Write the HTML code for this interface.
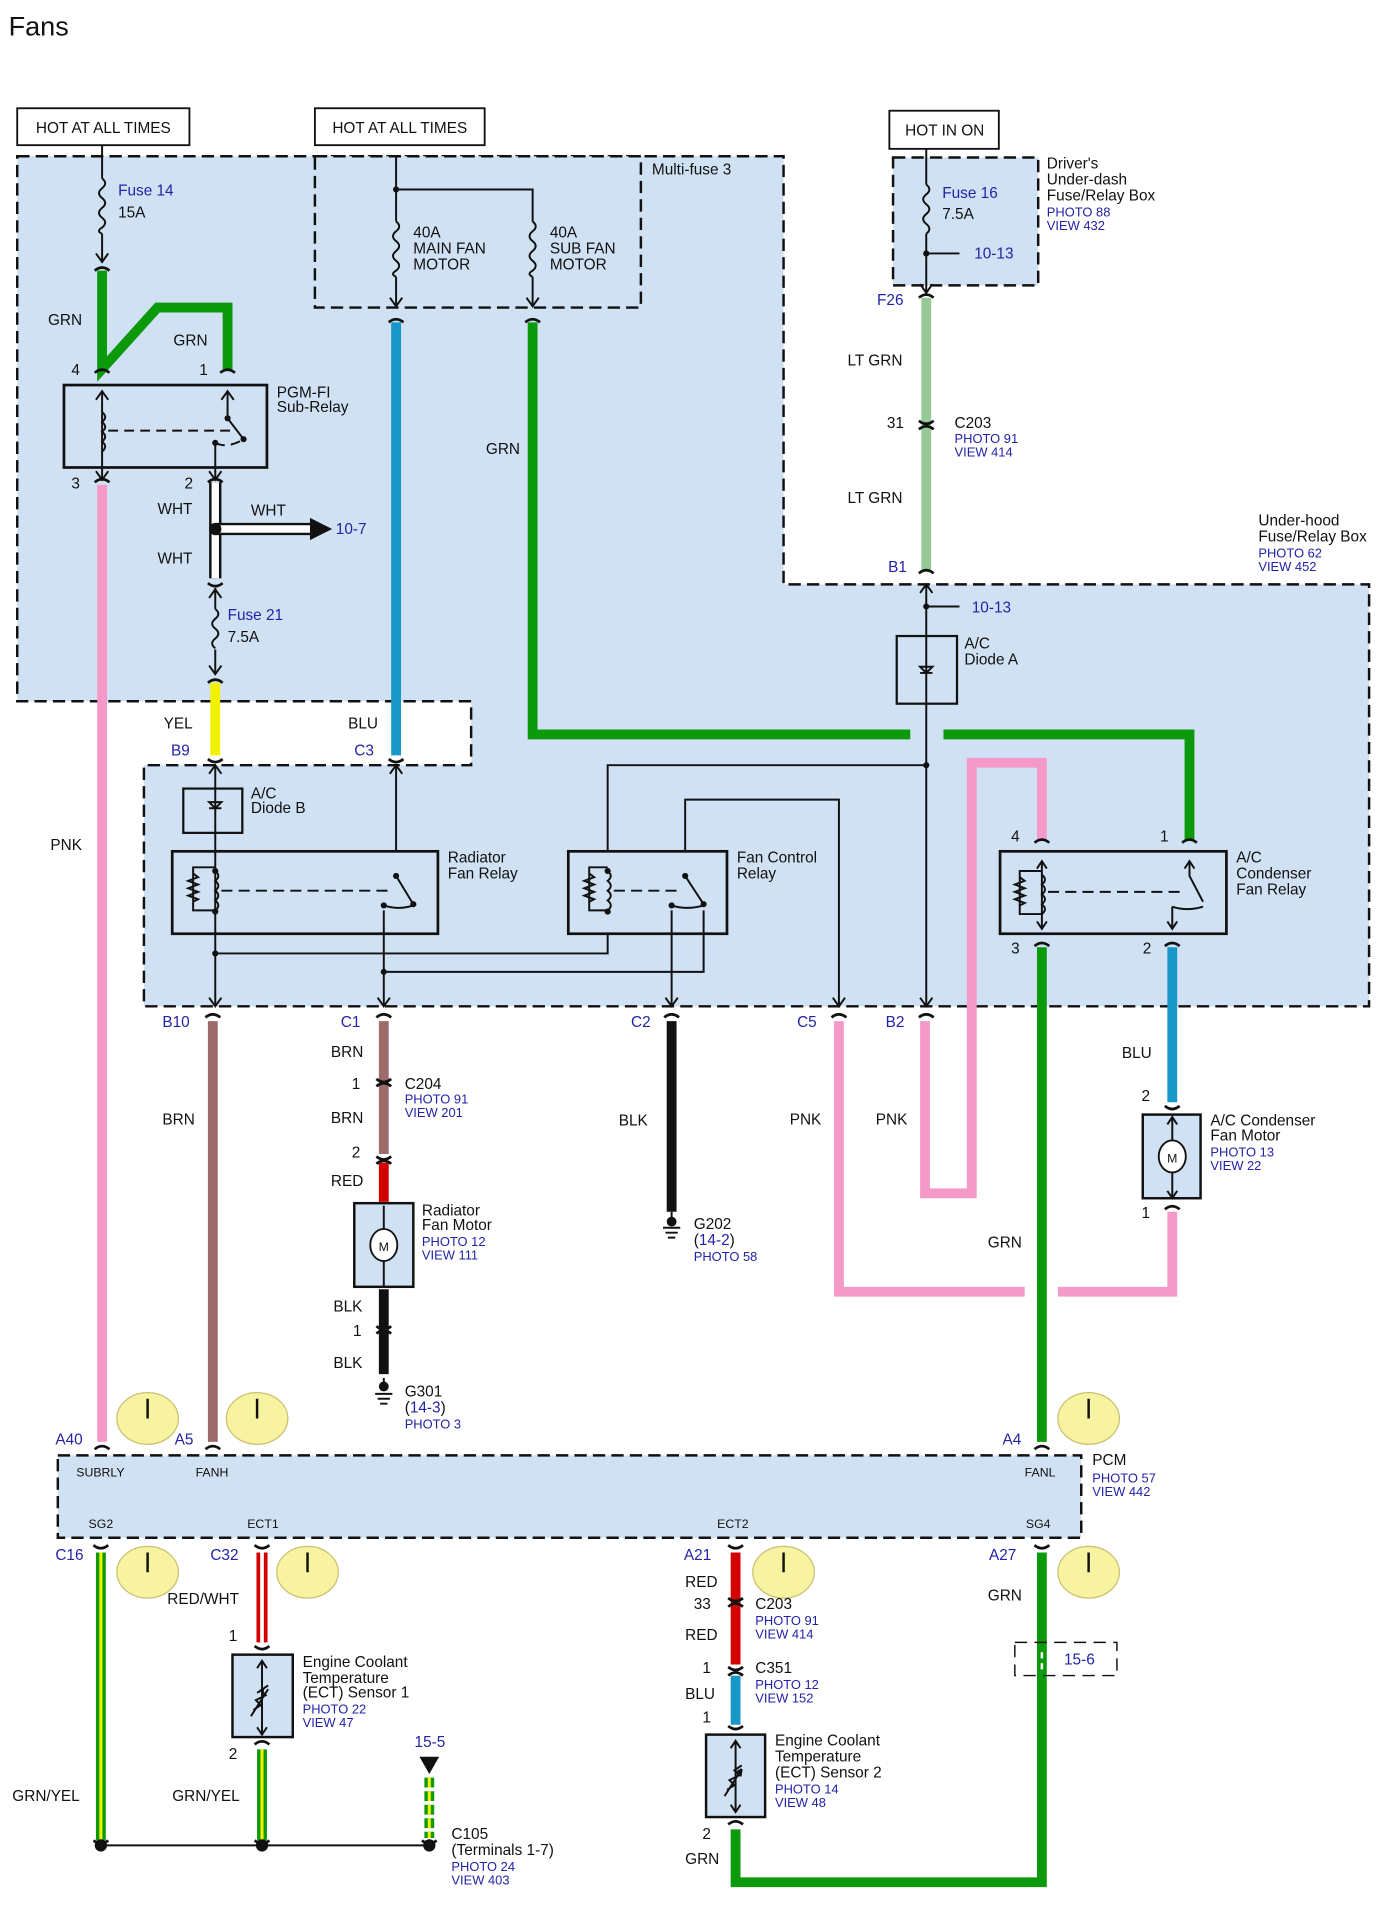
<!DOCTYPE html>
<html><head><meta charset="utf-8"><style>
html,body{margin:0;padding:0;background:#fff}
svg{display:block}
text{font-family:"Liberation Sans",Arial,sans-serif;font-size:12.5px;fill:#111}
.b{fill:#2323a8}
.s{font-size:10.5px;fill:#2323a8}
.sm{font-size:10px}
</style></head><body>
<svg width="1390" height="1929" viewBox="0 0 1130 1568" preserveAspectRatio="none" xmlns="http://www.w3.org/2000/svg">
<rect width="1130" height="1568" fill="#fff"/>
<text x="7" y="29" style="font-size:22px">Fans</text>

<!-- blue regions -->
<path d="M14,127 H637 V475 H1113 V818 H117 V622 H383 V570 H14 Z" fill="#cfe1f3" stroke="#111" stroke-width="2" stroke-dasharray="10,5"/>
<rect x="256" y="127" width="265" height="123" fill="#cfe1f3" stroke="#111" stroke-width="2" stroke-dasharray="10,5"/>
<rect x="726" y="128" width="118" height="104" fill="#cfe1f3" stroke="#111" stroke-width="2" stroke-dasharray="10,5"/>
<rect x="47" y="1183" width="832" height="67" fill="#cfe1f3" stroke="#111" stroke-width="2" stroke-dasharray="10,5"/>

<g fill="#cfe1f3" stroke="#111" stroke-width="2">
<rect x="288" y="978" width="48" height="68"/>
<rect x="929" y="906" width="47" height="68"/>
<rect x="189" y="1345" width="49" height="67"/>
<rect x="574" y="1410" width="48" height="67"/>
</g>

<!-- hot boxes -->
<rect x="14" y="88" width="140" height="30" fill="#fff" stroke="#111" stroke-width="1.5"/>
<text x="84" y="108" text-anchor="middle">HOT AT ALL TIMES</text>
<rect x="256" y="88" width="138" height="30" fill="#fff" stroke="#111" stroke-width="1.5"/>
<text x="325" y="108" text-anchor="middle">HOT AT ALL TIMES</text>
<rect x="723" y="90" width="89" height="31" fill="#fff" stroke="#111" stroke-width="1.5"/>
<text x="768" y="110" text-anchor="middle">HOT IN ON</text>

<text x="530" y="142">Multi-fuse 3</text>
<text x="851" y="137">Driver's</text><text x="851" y="150">Under-dash</text><text x="851" y="163">Fuse/Relay Box</text>
<text x="851" y="176" class="s">PHOTO 88</text><text x="851" y="187" class="s">VIEW 432</text>
<text x="1023" y="427">Under-hood</text><text x="1023" y="440">Fuse/Relay Box</text>
<text x="1023" y="453" class="s">PHOTO 62</text><text x="1023" y="464" class="s">VIEW 452</text>

<g fill="none" stroke="#111" stroke-width="1.6">
<path d="M83,118 V145 M83,190 V212"/>
<path d="M83,145 q5,4 0,8 q-5,4 0,8 q5,4 0,8 q-5,4 0,8 q5,4 0,8 q-5,3 0,5"/>
<path d="M78,206 L83,213 L88,206"/>
<path d="M322,127 V154 H433 V180 M322,154 V180 M322,225 V248 M433,225 V248"/>
<path d="M322,180 q5,4 0,8 q-5,4 0,8 q5,4 0,8 q-5,4 0,8 q5,4 0,8 q-5,3 0,5"/>
<path d="M433,180 q5,4 0,8 q-5,4 0,8 q5,4 0,8 q-5,4 0,8 q5,4 0,8 q-5,3 0,5"/>
<path d="M317,242 L322,249 L327,242 M428,242 L433,249 L438,242"/>
<path d="M753,121 V150 M753,190 V238 M753,206 H780"/>
<path d="M753,150 q5,4 0,8 q-5,4 0,8 q5,4 0,8 q-5,4 0,8 q5,4 0,8"/>
<path d="M748,231 L753,238 L758,231"/>
<path d="M175,478 V495 M175,528 V548"/>
<path d="M175,495 q5,4 0,8 q-5,4 0,8 q5,4 0,8 q-5,4 0,8"/>
<path d="M170,486 L175,479 L180,486 M170,541 L175,548 L180,541"/>
<path d="M753,475 V818 M753,493 H780 M748,482 L753,475 L758,482"/>
<path d="M494,692 V622 H753"/>
<path d="M557,692 V650 H682 V818"/>
<path d="M175,622 V818 M322,622 V692 M312,740 V818 M175,775 H494 V759 M312,790 H572 V740 M546,740 V818"/>
<path d="M170,629 L175,622 L180,629 M317,629 L322,622 L327,629 M170,811 L175,818 L180,811 M307,811 L312,818 L317,811 M541,811 L546,818 L551,811 M677,811 L682,818 L687,811 M748,811 L753,818 L758,811"/>
<path d="M83,318 V390 M185,318 V340 M175,360 V390"/>
<path d="M78,325 L83,318 L88,325 M180,325 L185,318 L190,325 M78,383 L83,390 L88,383 M170,383 L175,390 L180,383"/>
<path d="M185,340 L198,357"/>
<path d="M88,350 H190 M175,360 q10,5 23,-3" stroke-dasharray="8,5"/>
<path d="M83,335 q5,4 0,8 q5,4 0,8 q5,4 0,8 q5,4 0,8"/>
<path d="M175,705 h-18 v35 h18"/>
<path d="M157,710 l4,3 l-8,3 l8,3 l-8,3 l8,3 l-8,3 l8,3 l-4,2"/>
<path d="M175,708 q5,4 0,8 q5,4 0,8 q5,4 0,8 q5,4 0,8"/>
<path d="M180,724 H315" stroke-dasharray="9,5"/>
<path d="M322,712 L336,735 M312,736 q12,4 24,0" />
<path d="M494,705 h-15 v35 h15"/>
<path d="M479,710 l4,3 l-8,3 l8,3 l-8,3 l8,3 l-8,3 l8,3 l-4,2"/>
<path d="M494,708 q5,4 0,8 q5,4 0,8 q5,4 0,8 q5,4 0,8"/>
<path d="M499,724 H550" stroke-dasharray="9,5"/>
<path d="M557,712 L572,735 M546,736 q12,4 26,0"/>
<path d="M847,700 V755 M843,706 l4,-6 l4,6 M843,749 l4,6 l4,-6"/>
<path d="M847,708 h-18 v35 h18"/>
<path d="M829,713 l4,3 l-8,3 l8,3 l-8,3 l8,3 l-8,3 l8,3 l-4,2"/>
<path d="M847,711 q5,4 0,8 q5,4 0,8 q5,4 0,8 q5,4 0,8"/>
<path d="M852,725 H960" stroke-dasharray="9,5"/>
<path d="M967,700 V712 L978,733 M953,737 V755 M953,737 q12,4 25,0 M963,706 l4,-6 l4,6 M949,749 l4,6 l4,-6"/>
<path d="M170,657 h10 M170,652 h10 l-5,5 z"/>
<path d="M748,547 h10 M748,542 h10 l-5,5 z"/>
<path d="M312,1120 V1128 M305,1133 h14 M307,1137 h10 M309,1141 h6"/>
<path d="M546,985 V993 M539,998 h14 M541,1002 h10 M543,1006 h6"/>
<path d="M82,1500 H349"/>
<path d="M213,1350 V1410 M209,1356 l4,-6 l4,6 M209,1404 l4,6 l4,-6 M204,1395 l14,-22 M214,1373 l-1,6 M214,1373 l-5,3 M206,1390 l6,-4 l-4,-4 l8,-4 l-4,-4 l6,-4"/>
<path d="M598,1415 V1473 M594,1421 l4,-6 l4,6 M594,1467 l4,6 l4,-6 M589,1460 l14,-22 M603,1438 l-1,6 M603,1438 l-5,3 M591,1455 l6,-4 l-4,-4 l8,-4 l-4,-4 l6,-4"/>
<path d="M312,980 V1046 M953,908 V974 M949,914 l4,-6 l4,6 M949,968 l4,6 l4,-6"/>
</g>

<!-- thick wires -->
<g fill="none" stroke-width="8" stroke-linejoin="miter">
<path d="M83,220 V300 L128,250 H185 V300" stroke="#0c9a0c"/>
<path d="M83,394 V1172" stroke="#f59ac8"/>
<path d="M322,262 V614" stroke="#1898c8"/>
<path d="M433,262 V597 H740 M767,597 H967 V683" stroke="#0c9a0c"/>
<path d="M753,242 V463" stroke="#97c997"/>
<path d="M175,555 V614" stroke="#f2f200"/>
<path d="M847,683 V620 H790 V970 H752 V830" stroke="#f59ac8"/>
<path d="M682,830 V1050 H833 M860,1050 H953 V985" stroke="#f59ac8"/>
<path d="M847,770 V1172" stroke="#0c9a0c"/>
<path d="M953,770 V896" stroke="#1898c8"/>
<path d="M173,830 V1172" stroke="#9c6b6b"/>
<path d="M312,830 V938" stroke="#9c6b6b"/>
<path d="M312,945 V977" stroke="#d40000"/>
<path d="M312,1048 V1117" stroke="#111"/>
<path d="M546,830 V985" stroke="#111"/>
<path d="M598,1262 V1353 " stroke="#d40000"/>
<path d="M598,1362 V1402" stroke="#1898c8"/>
<path d="M598,1487 V1530 H847 V1262" stroke="#0c9a0c"/>
<path d="M82,1262 V1496 M213,1422 V1496" stroke="#0c9a0c"/>
<path d="M349,1445 V1494" stroke="#0c9a0c" stroke-dasharray="8,3"/>
</g>
<g fill="none" stroke-width="2.5">
<path d="M82,1262 V1496 M213,1422 V1496" stroke="#f2f200"/>
<path d="M349,1445 V1494" stroke="#f2f200" stroke-dasharray="8,3"/>
</g>
<path d="M175,392 V470" stroke="#111" stroke-width="10" fill="none"/>
<path d="M175,392 V470" stroke="#fff" stroke-width="6" fill="none"/>
<path d="M175,430 H255" stroke="#111" stroke-width="10"/>
<path d="M175,430 H255" stroke="#fff" stroke-width="6"/>
<polygon points="252,421 270,430 252,439" fill="#111"/>
<circle cx="175" cy="430" r="5" fill="#111"/>
<path d="M213,1262 V1335" stroke="#d40000" stroke-width="9" fill="none"/>
<path d="M213,1262 V1335" stroke="#fff" stroke-width="3" fill="none"/>
<polygon points="341,1428 357,1428 349,1442" fill="#111"/>
<rect x="825" y="1335" width="83" height="27" fill="none" stroke="#111" stroke-width="1.2" stroke-dasharray="10,6"/>
<path d="M847,1343 V1348 M847,1352 V1357" stroke="#fff" stroke-width="2"/>

<g fill="none" stroke="#111" stroke-width="2.2">
<rect x="52" y="313" width="165" height="67"/>
<rect x="140" y="692" width="216" height="67"/>
<rect x="462" y="692" width="129" height="67"/>
<rect x="813" y="692" width="184" height="67"/>
<rect x="149" y="641" width="48" height="36" stroke-width="1.8"/>
<rect x="729" y="517" width="49" height="55" stroke-width="1.8"/>
</g>
<g fill="#fff" stroke="#111" stroke-width="1.5">
<ellipse cx="312" cy="1012" rx="11" ry="13"/>
<ellipse cx="953" cy="940" rx="11" ry="13"/>
</g>
<text x="312" y="1017" text-anchor="middle" class="sm">M</text>
<text x="953" y="945" text-anchor="middle" class="sm">M</text>
<g fill="#111">
<circle cx="185" cy="340" r="2.5"/><circle cx="198" cy="357" r="2.5"/><circle cx="175" cy="360" r="2.5"/>
<circle cx="322" cy="712" r="2.5"/><circle cx="336" cy="735" r="2.5"/><circle cx="312" cy="736" r="2.5"/>
<circle cx="557" cy="712" r="2.5"/><circle cx="572" cy="735" r="2.5"/><circle cx="546" cy="736" r="2.5"/>
<circle cx="494" cy="708" r="2.5"/><circle cx="494" cy="741" r="2.5"/><circle cx="175" cy="708" r="2.5"/><circle cx="175" cy="741" r="2.5"/>
<circle cx="175" cy="775" r="2.5"/><circle cx="312" cy="790" r="2.5"/><circle cx="753" cy="622" r="2.5"/><circle cx="753" cy="493" r="2.5"/><circle cx="753" cy="206" r="2.5"/><circle cx="322" cy="154" r="2.5"/>
<circle cx="82" cy="1500" r="5"/><circle cx="213" cy="1500" r="5"/><circle cx="349" cy="1500" r="5"/>
<circle cx="312" cy="1127" r="4"/><circle cx="546" cy="993" r="4"/>
</g>

<g fill="none" stroke="#111" stroke-width="2.2">
<path d="M77,220 q6,-5 12,0 M179,303 q6,-5 12,0 M77,303 q6,-5 12,0 M77,392 q6,-5 12,0 M169,392 q6,-5 12,0 M169,474 q6,5 12,0 M169,555 q6,-5 12,0 M169,617 q6,5 12,0 M316,617 q6,5 12,0 M316,262 q6,-5 12,0 M427,262 q6,-5 12,0 M747,242 q6,-5 12,0 M747,342 q6,5 12,0 M747,349 q6,-5 12,0 M747,466 q6,-5 12,0"/>
<path d="M841,685 q6,-5 12,0 M961,685 q6,-5 12,0 M841,769 q6,-5 12,0 M947,769 q6,-5 12,0 M947,899 q6,5 12,0 M947,983 q6,-5 12,0"/>
<path d="M167,827 q6,-5 12,0 M306,827 q6,-5 12,0 M540,827 q6,-5 12,0 M676,827 q6,-5 12,0 M747,827 q6,-5 12,0"/>
<path d="M306,877 q6,5 12,0 M306,883 q6,-5 12,0 M306,940 q6,5 12,0 M306,946 q6,-5 12,0 M306,1078 q6,5 12,0 M306,1084 q6,-5 12,0"/>
<path d="M77,1178 q6,-5 12,0 M167,1178 q6,-5 12,0 M841,1178 q6,-5 12,0 M76,1256 q6,5 12,0 M207,1256 q6,5 12,0 M592,1256 q6,5 12,0 M841,1256 q6,5 12,0"/>
<path d="M207,1338 q6,5 12,0 M207,1418 q6,-5 12,0 M592,1299 q6,5 12,0 M592,1306 q6,-5 12,0 M592,1355 q6,5 12,0 M592,1362 q6,-5 12,0 M592,1403 q6,5 12,0 M592,1483 q6,-5 12,0 M76,1496 q6,5 12,0 M207,1496 q6,5 12,0 M343,1496 q6,5 12,0"/>
</g>

<g fill="#f8f3a0" stroke="#c8c070" stroke-width="1">
<ellipse cx="120" cy="1153" rx="25" ry="21"/><ellipse cx="209" cy="1153" rx="25" ry="21"/><ellipse cx="885" cy="1153" rx="25" ry="21"/>
<ellipse cx="120" cy="1278" rx="25" ry="21"/><ellipse cx="250" cy="1278" rx="25" ry="21"/><ellipse cx="637" cy="1278" rx="25" ry="21"/><ellipse cx="885" cy="1278" rx="25" ry="21"/>
</g>
<g stroke="#111" stroke-width="2">
<path d="M120,1137 V1153 M209,1137 V1153 M885,1137 V1153 M120,1262 V1278 M250,1262 V1278 M637,1262 V1278 M885,1262 V1278"/>
</g>

<text x="96" y="159" class="b">Fuse 14</text><text x="96" y="177">15A</text>
<text x="336" y="193">40A</text><text x="336" y="206">MAIN FAN</text><text x="336" y="219">MOTOR</text>
<text x="447" y="193">40A</text><text x="447" y="206">SUB FAN</text><text x="447" y="219">MOTOR</text>
<text x="766" y="161" class="b">Fuse 16</text><text x="766" y="178">7.5A</text>
<text x="792" y="210" class="b">10-13</text>
<text x="713" y="248" class="b">F26</text>
<text x="689" y="297">LT GRN</text>
<text x="721" y="348">31</text>
<text x="776" y="348">C203</text><text x="776" y="360" class="s">PHOTO 91</text><text x="776" y="371" class="s">VIEW 414</text>
<text x="689" y="409">LT GRN</text>
<text x="722" y="465" class="b">B1</text>
<text x="790" y="498" class="b">10-13</text>
<text x="784" y="527">A/C</text><text x="784" y="540">Diode A</text>
<text x="39" y="264">GRN</text><text x="141" y="281">GRN</text>
<text x="58" y="305">4</text><text x="162" y="305">1</text>
<text x="225" y="323">PGM-FI</text><text x="225" y="335">Sub-Relay</text>
<text x="58" y="397">3</text><text x="150" y="397">2</text>
<text x="128" y="418">WHT</text><text x="204" y="419">WHT</text><text x="128" y="458">WHT</text>
<text x="273" y="434" class="b">10-7</text>
<text x="185" y="504" class="b">Fuse 21</text><text x="185" y="522">7.5A</text>
<text x="395" y="369">GRN</text>
<text x="41" y="691">PNK</text>
<text x="133" y="592">YEL</text><text x="139" y="614" class="b">B9</text>
<text x="283" y="592">BLU</text><text x="288" y="614" class="b">C3</text>
<text x="204" y="649">A/C</text><text x="204" y="661">Diode B</text>
<text x="364" y="701">Radiator</text><text x="364" y="714">Fan Relay</text>
<text x="599" y="701">Fan Control</text><text x="599" y="714">Relay</text>
<text x="1005" y="701">A/C</text><text x="1005" y="714">Condenser</text><text x="1005" y="727">Fan Relay</text>
<text x="822" y="684">4</text><text x="943" y="684">1</text><text x="822" y="775">3</text><text x="929" y="775">2</text>
<text x="132" y="835" class="b">B10</text><text x="277" y="835" class="b">C1</text><text x="513" y="835" class="b">C2</text><text x="648" y="835" class="b">C5</text><text x="720" y="835" class="b">B2</text>
<text x="269" y="859">BRN</text><text x="132" y="914">BRN</text>
<text x="286" y="885">1</text><text x="329" y="885">C204</text><text x="329" y="897" class="s">PHOTO 91</text><text x="329" y="908" class="s">VIEW 201</text>
<text x="269" y="913">BRN</text><text x="286" y="941">2</text><text x="269" y="964">RED</text>
<text x="343" y="988">Radiator</text><text x="343" y="1000">Fan Motor</text><text x="343" y="1013" class="s">PHOTO 12</text><text x="343" y="1024" class="s">VIEW 111</text>
<text x="271" y="1066">BLK</text><text x="287" y="1086">1</text><text x="271" y="1112">BLK</text>
<text x="329" y="1135">G301</text><text x="329" y="1148"><tspan>(</tspan><tspan class="b">14-3</tspan><tspan>)</tspan></text><text x="329" y="1161" class="s">PHOTO 3</text>
<text x="503" y="915">BLK</text>
<text x="564" y="999">G202</text><text x="564" y="1012"><tspan>(</tspan><tspan class="b">14-2</tspan><tspan>)</tspan></text><text x="564" y="1025" class="s">PHOTO 58</text>
<text x="642" y="914">PNK</text><text x="712" y="914">PNK</text>
<text x="912" y="860">BLU</text><text x="928" y="895">2</text>
<text x="984" y="915">A/C Condenser</text><text x="984" y="927">Fan Motor</text><text x="984" y="940" class="s">PHOTO 13</text><text x="984" y="951" class="s">VIEW 22</text>
<text x="928" y="990">1</text>
<text x="803" y="1014">GRN</text>
<text x="45" y="1174" class="b">A40</text><text x="142" y="1174" class="b">A5</text><text x="815" y="1174" class="b">A4</text>
<text x="62" y="1200" class="sm">SUBRLY</text><text x="159" y="1200" class="sm">FANH</text><text x="833" y="1200" class="sm">FANL</text>
<text x="72" y="1242" class="sm">SG2</text><text x="201" y="1242" class="sm">ECT1</text><text x="583" y="1242" class="sm">ECT2</text><text x="834" y="1242" class="sm">SG4</text>
<text x="888" y="1191">PCM</text><text x="888" y="1205" class="s">PHOTO 57</text><text x="888" y="1216" class="s">VIEW 442</text>
<text x="45" y="1268" class="b">C16</text><text x="171" y="1268" class="b">C32</text><text x="556" y="1268" class="b">A21</text><text x="804" y="1268" class="b">A27</text>
<text x="136" y="1304">RED/WHT</text><text x="186" y="1334">1</text>
<text x="246" y="1355">Engine Coolant</text><text x="246" y="1368">Temperature</text><text x="246" y="1380">(ECT) Sensor 1</text><text x="246" y="1393" class="s">PHOTO 22</text><text x="246" y="1404" class="s">VIEW 47</text>
<text x="186" y="1430">2</text>
<text x="10" y="1464">GRN/YEL</text><text x="140" y="1464">GRN/YEL</text>
<text x="337" y="1420" class="b">15-5</text>
<text x="367" y="1495">C105</text><text x="367" y="1508">(Terminals 1-7)</text><text x="367" y="1521" class="s">PHOTO 24</text><text x="367" y="1532" class="s">VIEW 403</text>
<text x="557" y="1290">RED</text><text x="564" y="1308">33</text>
<text x="614" y="1308">C203</text><text x="614" y="1321" class="s">PHOTO 91</text><text x="614" y="1332" class="s">VIEW 414</text>
<text x="557" y="1333">RED</text><text x="571" y="1360">1</text>
<text x="614" y="1360">C351</text><text x="614" y="1373" class="s">PHOTO 12</text><text x="614" y="1384" class="s">VIEW 152</text>
<text x="557" y="1381">BLU</text><text x="571" y="1400">1</text>
<text x="630" y="1419">Engine Coolant</text><text x="630" y="1432">Temperature</text><text x="630" y="1445">(ECT) Sensor 2</text><text x="630" y="1458" class="s">PHOTO 14</text><text x="630" y="1469" class="s">VIEW 48</text>
<text x="571" y="1495">2</text><text x="557" y="1515">GRN</text>
<text x="803" y="1301">GRN</text>
<text x="865" y="1353" class="b">15-6</text>
</svg>
</body></html>
